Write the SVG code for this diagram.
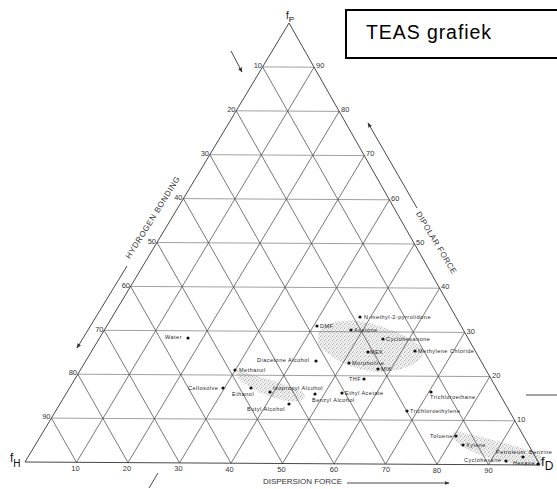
<svg xmlns="http://www.w3.org/2000/svg" width="557" height="489" viewBox="0 0 557 489">
<style>
.g{stroke:#555;stroke-width:0.8;fill:none}
.h{stroke:#888;stroke-width:0.8;fill:none}
.e{stroke:#333;stroke-width:0.9;fill:none}
.n{font-family:"Liberation Sans",Arial,sans-serif;font-size:7.5px;fill:#333}
.lb{font-family:"Liberation Sans",Arial,sans-serif;font-size:5.5px;letter-spacing:0.5px;fill:#222}
.ax{font-family:"Liberation Sans",Arial,sans-serif;font-size:8px;fill:#333}
.v{font-family:"Liberation Sans",Arial,sans-serif;fill:#111}
.d{fill:#111}
.sh{fill:url(#stip)}
.ar{stroke:#333;stroke-width:0.9;fill:none}
</style>
<defs>
<marker id="ah" viewBox="0 0 10 10" refX="9" refY="5" markerWidth="5" markerHeight="5" orient="auto" markerUnits="userSpaceOnUse">
<path d="M0,1 L10,5 L0,9 Z" fill="#333"/>
</marker>
<pattern id="stip" width="4" height="4" patternUnits="userSpaceOnUse">
<rect width="4" height="4" fill="#eeeeee"/>
<rect x="0" y="0" width="1" height="1" fill="#b5b5b5"/>
<rect x="2" y="1" width="1" height="1" fill="#c8c8c8"/>
<rect x="1" y="3" width="1" height="1" fill="#c0c0c0"/>
<rect x="3" y="2" width="1" height="1" fill="#d0d0d0"/>
</pattern>
</defs>
<rect width="557" height="489" fill="#fff"/>

<g id="shading">
<path class="sh" d="M318,333 C322,322 345,318 365,322 C390,328 415,338 423,350 C425,362 405,370 385,372 C360,373 335,362 318,345 Z"/>
<path class="sh" d="M236,371 C255,374 285,384 303,392 C308,398 302,403 288,401 C268,398 248,388 238,378 Z"/>
<path class="sh" d="M455,431 C475,435 510,444 535,452 C548,458 546,467 530,466 C505,464 478,456 462,446 C452,440 450,433 455,431 Z"/>
</g>

<g id="grid">
<line class="h" x1="51.4" y1="418.1" x2="514.9" y2="420.8"/>
<line class="h" x1="77.8" y1="374.2" x2="489.8" y2="376.6"/>
<line class="h" x1="104.2" y1="330.3" x2="464.7" y2="332.4"/>
<line class="h" x1="130.6" y1="286.4" x2="439.6" y2="288.2"/>
<line class="h" x1="157" y1="242.5" x2="414.5" y2="244"/>
<line class="h" x1="183.4" y1="198.6" x2="389.4" y2="199.8"/>
<line class="h" x1="209.8" y1="154.7" x2="364.3" y2="155.6"/>
<line class="h" x1="236.2" y1="110.8" x2="339.2" y2="111.4"/>
<line class="h" x1="262.6" y1="66.9" x2="314.1" y2="67.2"/>

<line class="g" x1="76.5" y1="462.3" x2="314.1" y2="67.2"/>
<line class="g" x1="128" y1="462.6" x2="339.2" y2="111.4"/>
<line class="g" x1="179.5" y1="462.9" x2="364.3" y2="155.6"/>
<line class="g" x1="231" y1="463.2" x2="389.4" y2="199.8"/>
<line class="g" x1="282.5" y1="463.5" x2="414.5" y2="244"/>
<line class="g" x1="334" y1="463.8" x2="439.6" y2="288.2"/>
<line class="g" x1="385.5" y1="464.1" x2="464.7" y2="332.4"/>
<line class="g" x1="437" y1="464.4" x2="489.8" y2="376.6"/>
<line class="g" x1="488.5" y1="464.7" x2="514.9" y2="420.8"/>

<line class="g" x1="488.5" y1="464.7" x2="262.6" y2="66.9"/>
<line class="g" x1="437" y1="464.4" x2="236.2" y2="110.8"/>
<line class="g" x1="385.5" y1="464.1" x2="209.8" y2="154.7"/>
<line class="g" x1="334" y1="463.8" x2="183.4" y2="198.6"/>
<line class="g" x1="282.5" y1="463.5" x2="157" y2="242.5"/>
<line class="g" x1="231" y1="463.2" x2="130.6" y2="286.4"/>
<line class="g" x1="179.5" y1="462.9" x2="104.2" y2="330.3"/>
<line class="g" x1="128" y1="462.6" x2="77.8" y2="374.2"/>
<line class="g" x1="76.5" y1="462.3" x2="51.4" y2="418.1"/>

<path class="e" d="M289,23 L25,462 L540,465 Z"/>
</g>

<g id="scale-labels">
<text class="n" text-anchor="end" x="262" y="68">10</text>
<text class="n" text-anchor="end" x="235.5" y="112">20</text>
<text class="n" text-anchor="end" x="209" y="156">30</text>
<text class="n" text-anchor="end" x="182.5" y="200">40</text>
<text class="n" text-anchor="end" x="156" y="244">50</text>
<text class="n" text-anchor="end" x="130" y="288">60</text>
<text class="n" text-anchor="end" x="103.5" y="332">70</text>
<text class="n" text-anchor="end" x="77" y="375">80</text>
<text class="n" text-anchor="end" x="50.5" y="419">90</text>

<text class="n" x="316" y="68">90</text>
<text class="n" x="341" y="112">80</text>
<text class="n" x="366" y="156">70</text>
<text class="n" x="391" y="201">60</text>
<text class="n" x="416" y="245">50</text>
<text class="n" x="441" y="289">40</text>
<text class="n" x="466.5" y="333.5">30</text>
<text class="n" x="492" y="377.5">20</text>
<text class="n" x="517" y="421.5">10</text>

<text class="n" text-anchor="middle" x="75.5" y="471">10</text>
<text class="n" text-anchor="middle" x="127" y="471">20</text>
<text class="n" text-anchor="middle" x="178.5" y="471">30</text>
<text class="n" text-anchor="middle" x="229.5" y="471.5">40</text>
<text class="n" text-anchor="middle" x="281.5" y="471.5">50</text>
<text class="n" text-anchor="middle" x="334" y="472">60</text>
<text class="n" text-anchor="middle" x="386" y="472">70</text>
<text class="n" text-anchor="middle" x="437" y="472.5">80</text>
<text class="n" text-anchor="middle" x="488.5" y="473">90</text>
</g>

<g id="vertex-labels">
<text class="v" font-size="10" x="286" y="19">f<tspan font-size="8" dy="3">P</tspan></text>
<text class="v" font-size="12" x="10" y="462">f<tspan font-size="10" dy="5">H</tspan></text>
<text class="v" font-size="13" x="541" y="466">f<tspan font-size="12" dy="4">D</tspan></text>
</g>

<g id="axis-titles">
<text class="ax" text-anchor="middle" transform="translate(155,219) rotate(-58)" textLength="95" lengthAdjust="spacing">HYDROGEN BONDING</text>
<text class="ax" text-anchor="middle" transform="translate(434,244) rotate(59)" textLength="71" lengthAdjust="spacing">DIPOLAR FORCE</text>
<text class="ax" x="263" y="484" textLength="79" lengthAdjust="spacing">DISPERSION FORCE</text>
</g>

<g id="connectors">
<line class="ar" x1="347" y1="483" x2="449" y2="483" marker-end="url(#ah)"/>
<line class="ar" x1="127" y1="266" x2="77" y2="348" marker-end="url(#ah)"/>
<line class="ar" x1="417" y1="208" x2="368" y2="123" marker-end="url(#ah)"/>
<line class="ar" x1="231" y1="51" x2="242" y2="72" marker-end="url(#ah)"/>
<line class="ar" x1="149" y1="488" x2="158" y2="473"/>
<line class="ar" x1="557" y1="395" x2="526" y2="395"/>
</g>

<g id="solvents">
<g id="n-methyl"><circle class="d" cx="360" cy="317" r="1.6"/><text class="lb" x="364" y="319">N-methyl-2-pyrrolidone</text></g>
<g id="dmf"><circle class="d" cx="317" cy="326" r="1.6"/><text class="lb" x="320" y="328">DMF</text></g>
<g id="acetone"><circle class="d" cx="351" cy="330" r="1.6"/><text class="lb" x="354" y="332">Acetone</text></g>
<g id="cyclohexanone"><circle class="d" cx="383" cy="339" r="1.6"/><text class="lb" x="386" y="341">Cyclohexanone</text></g>
<g id="mek"><circle class="d" cx="368" cy="352" r="1.6"/><text class="lb" x="370" y="354">MEK</text></g>
<g id="methylene-chloride"><circle class="d" cx="415" cy="351" r="1.6"/><text class="lb" x="418" y="353">Methylene Chloride</text></g>
<g id="diacetone"><circle class="d" cx="316" cy="361" r="1.6"/><text class="lb" x="257" y="362">Diacetone Alcohol</text></g>
<g id="morpholine"><circle class="d" cx="349" cy="363" r="1.6"/><text class="lb" x="352" y="365">Morpholine</text></g>
<g id="mik"><circle class="d" cx="378" cy="369" r="1.6"/><text class="lb" x="381" y="371">MIK</text></g>
<g id="thf"><circle class="d" cx="364" cy="379" r="1.6"/><text class="lb" x="349" y="381">THF</text></g>
<g id="ethyl-acetate"><circle class="d" cx="342" cy="393" r="1.6"/><text class="lb" x="345" y="395">Ethyl Acetate</text></g>
<g id="benzyl-alcohol"><circle class="d" cx="315" cy="394" r="1.6"/><text class="lb" x="312" y="402">Benzyl Alcohol</text></g>
<g id="water"><circle class="d" cx="188" cy="338" r="1.6"/><text class="lb" x="165" y="339">Water</text></g>
<g id="methanol"><circle class="d" cx="235" cy="370" r="1.6"/><text class="lb" x="239" y="372">Methanol</text></g>
<g id="cellosolve"><circle class="d" cx="223" cy="388" r="1.6"/><text class="lb" x="188" y="390">Cellosolve</text></g>
<g id="ethanol"><circle class="d" cx="251" cy="388" r="1.6"/><text class="lb" x="232" y="395.5">Ethanol</text></g>
<g id="isopropyl"><circle class="d" cx="270" cy="392" r="1.6"/><text class="lb" x="273" y="390">Isopropyl Alcohol</text></g>
<g id="butyl"><circle class="d" cx="289" cy="404" r="1.6"/><text class="lb" x="247" y="411">Butyl Alcohol</text></g>
<g id="trichloroethane"><circle class="d" cx="431" cy="392" r="1.6"/><text class="lb" x="430" y="399">Trichloroethane</text></g>
<g id="trichloroethylene"><circle class="d" cx="407" cy="411" r="1.6"/><text class="lb" x="410" y="413">Trichloroethylene</text></g>
<g id="toluene"><circle class="d" cx="456" cy="436" r="1.6"/><text class="lb" x="430" y="438">Toluene</text></g>
<g id="xylene"><circle class="d" cx="463" cy="445" r="1.6"/><text class="lb" x="466" y="447">Xylene</text></g>
<g id="petroleum-benzine"><circle class="d" cx="523" cy="457" r="1.6"/><text class="lb" x="496" y="454">Petroleum</text><text class="lb" x="529" y="454">Benzine</text></g>
<g id="cyclohexane"><circle class="d" cx="506" cy="461" r="1.6"/><text class="lb" x="464" y="462">Cyclohexane</text></g>
<g id="hexane"><circle class="d" cx="538" cy="464" r="1.6"/><text class="lb" x="513" y="465">Hexane</text></g>
</g>

<g id="title">
<rect x="346" y="10" width="220" height="48" fill="#fff" stroke="#000" stroke-width="2"/>
<text x="366" y="38.5" font-family="'Liberation Sans',Arial,sans-serif" font-size="19.5" fill="#000" textLength="125" lengthAdjust="spacing">TEAS grafiek</text>
</g>
</svg>
